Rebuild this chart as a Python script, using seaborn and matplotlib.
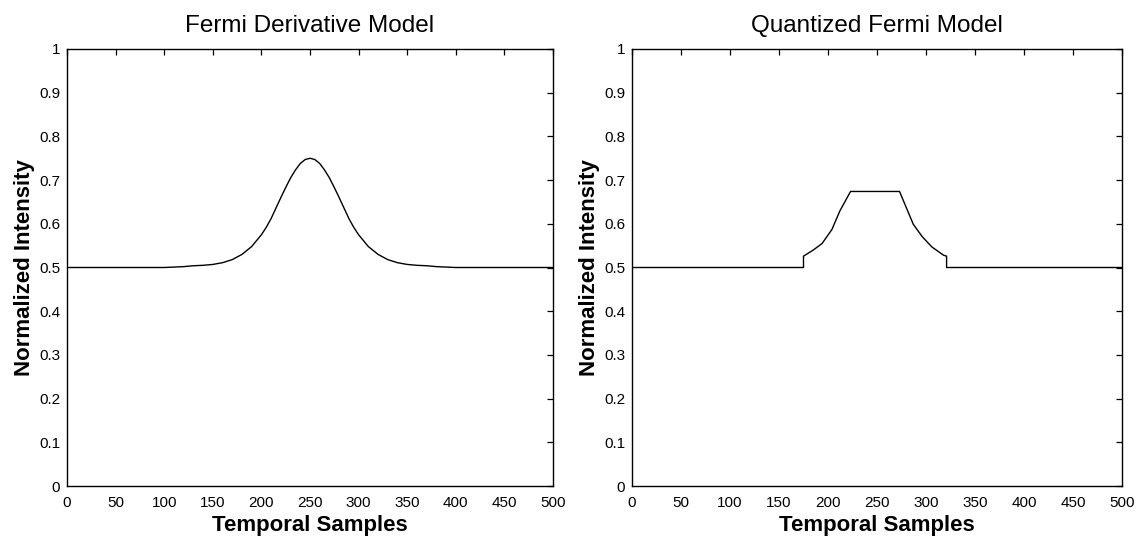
import matplotlib
matplotlib.use("Agg")
import matplotlib.pyplot as plt
import seaborn as sns
import pandas as pd

# ---- data ----
fermi_x = [0, 50, 100, 110, 120, 130, 140, 150, 160, 170, 180, 190, 200, 205, 210, 215,
           220, 225, 230, 235, 240, 245, 250, 255, 260, 265, 270, 275, 280, 285, 290,
           295, 300, 310, 320, 330, 340, 350, 360, 370, 380, 390, 400, 450, 500]
fermi_y = [0.5, 0.5, 0.5, 0.501, 0.502, 0.504, 0.505, 0.507, 0.511, 0.518, 0.530,
           0.548, 0.575, 0.592, 0.612, 0.636, 0.660, 0.683, 0.705, 0.723, 0.738,
           0.747, 0.750, 0.747, 0.738, 0.723, 0.705, 0.683, 0.660, 0.636, 0.612,
           0.592, 0.575, 0.548, 0.530, 0.518, 0.511, 0.507, 0.505, 0.504, 0.502,
           0.501, 0.5, 0.5, 0.5]

quant_x = [0, 175, 175, 185, 194, 204, 212, 223, 273, 287, 296, 306, 318, 321, 321, 500]
quant_y = [0.5, 0.5, 0.526, 0.540, 0.555, 0.587, 0.629, 0.674, 0.674, 0.599, 0.571,
           0.547, 0.528, 0.526, 0.5, 0.5]

titles = ["Fermi Derivative Model", "Quantized Fermi Model"]
x_label = "Temporal Samples"
y_label = "Normalized Intensity"
x_ticks = [0, 50, 100, 150, 200, 250, 300, 350, 400, 450, 500]
y_ticks = [0, 0.1, 0.2, 0.3, 0.4, 0.5, 0.6, 0.7, 0.8, 0.9, 1]
y_tick_labels = ["0", "0.1", "0.2", "0.3", "0.4", "0.5", "0.6", "0.7", "0.8", "0.9", "1"]

sns.set_style("white")
plt.rcParams['font.family'] = ['Liberation Sans', 'DejaVu Sans']
plt.rcParams['text.color'] = 'black'
plt.rcParams['axes.labelcolor'] = 'black'

fig = plt.figure(figsize=(11.39, 5.44), dpi=100)
ax1 = fig.add_axes([67 / 1139, 1 - 486 / 544, 486 / 1139, 437 / 544])
ax2 = fig.add_axes([632 / 1139, 1 - 486 / 544, 490 / 1139, 437 / 544])

df1 = pd.DataFrame({"x": fermi_x, "y": fermi_y})
df2 = pd.DataFrame({"x": quant_x, "y": quant_y})

tick_font = dict(family=['Liberation Sans Narrow', 'Liberation Sans', 'DejaVu Sans'],
                 size=11, color='black')

for ax, df, title in [(ax1, df1, titles[0]), (ax2, df2, titles[1])]:
    sns.lineplot(data=df, x="x", y="y", ax=ax, color="black", linewidth=1.0,
                 estimator=None, sort=False)
    ax.set_xlim(0, 500)
    ax.set_ylim(0, 1)
    ax.set_xticks(x_ticks)
    ax.set_xticklabels([str(t) for t in x_ticks], fontdict=tick_font)
    ax.set_yticks(y_ticks)
    ax.set_yticklabels(y_tick_labels, fontdict=tick_font)
    ax.tick_params(direction='in', top=True, right=True, length=4, width=0.9,
                   colors='black', pad=5)
    ax.tick_params(axis='x', pad=7)
    for s in ax.spines.values():
        s.set_visible(True)
        s.set_color('black')
        s.set_linewidth(1.0)
    ax.set_title(title, fontsize=17.5, pad=12, color='black')
    ax.set_xlabel(x_label, fontsize=16, fontweight='bold', labelpad=4, color='black')
    ax.set_ylabel(y_label, fontsize=16, fontweight='bold', labelpad=3, color='black')
    ax.grid(False)

fig.savefig("out.png", dpi=100, facecolor="white")
